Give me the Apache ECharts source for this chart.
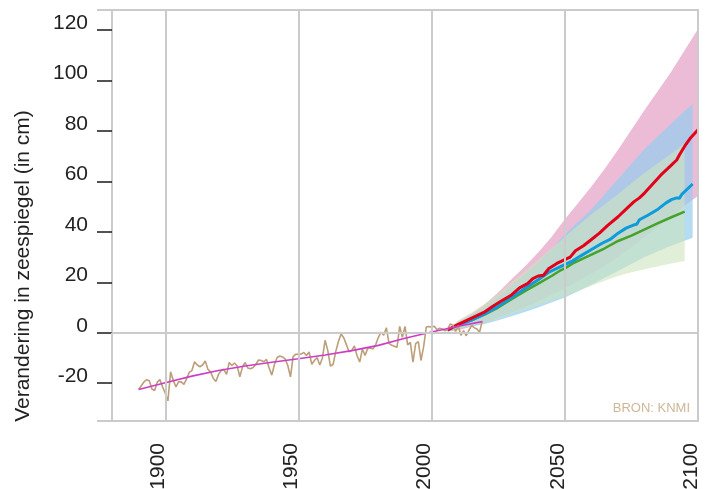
<!DOCTYPE html>
<html>
<head>
<meta charset="utf-8">
<script src="https://cdn.jsdelivr.net/npm/echarts@6/dist/echarts.min.js"></script>
<style>
html, body { margin: 0; padding: 0; background: #fff; }
#chart { width: 710px; height: 489px; }
</style>
</head>
<body>
<div id="chart"></div>
<script>
// ---------------- data ----------------
var xMin = 1880, xMax = 2100;
var yMin = -35, yMax = 128;
var xTicks = [1900, 1950, 2000, 2050, 2100];
var yTicks = [-20, 0, 20, 40, 60, 80, 100, 120];

// gemeten zeespiegel, jaarlijks vanaf 1890
var obsStart = 1890;
var obsValues = [
  -22.5, -21, -19.5, -18.6, -19, -22.3, -22.9, -19.6, -18.6, -21.5,
  -24, -27, -15.5, -18.8, -21.5, -19.5, -19.5, -20.5, -18.3, -15.7,
  -15, -11.5, -12.8, -13.5, -12.8, -11.2, -14.5, -15.5, -18, -19.3,
  -16.5, -15, -14.5, -16.5, -11.8, -13, -12, -13.2, -17.5, -13.5,
  -11.8, -14, -14.3, -13.8, -12.6, -10.8, -11, -11.5, -10.6, -14,
  -16.8, -12.5, -9.8, -9.2, -9.6, -10.4, -13, -17.5, -9.5, -8.5,
  -8.4, -8.5, -7.8, -9, -7.6, -12.5, -11, -9.8, -12.8, -10,
  -3, -7, -13.2, -12.6, -7.5, -3.5, -0.5, -2, -4.7, -7.6,
  -7, -5.2, -9.1, -11.6, -6.5, -9, -6.2, -6, -6.4, -4.8,
  -1.8, 0.2, -1, 2, -4.2, -5, -5.4, -5.8, 2.5, -1.8,
  2.5, -4.8, -3.8, -11.7, -4.3, -3.5, -11, -5.5, 2.3, 2.5,
  2.2, 2.6, 1.2, 1.8, 1.5, 0.8, 1.3, 3.5, 3, 0.5,
  2.8, -1, 0.8, -1.2, 1, 2.8, 2, 1.5, 0.2, 4.7
];

// trendlijn
var trendYears = [1890, 1900, 1910, 1920, 1930, 1940, 1950, 1960, 1970, 1980, 1990, 2000, 2010, 2019];
var trendValues = [-22.5, -19.8, -17.2, -15, -13.2, -11.7, -10.3, -8.8, -7.1, -5, -2.2, 0.3, 2.6, 4.4];

// projecties (middenwaarden)
var redYears = [2006, 2010, 2014, 2017, 2020, 2023, 2026, 2030, 2033, 2036, 2038, 2040, 2042, 2044, 2047, 2050, 2052, 2054, 2057, 2060, 2063, 2066, 2070, 2073, 2076, 2078, 2080, 2083, 2086, 2088, 2090, 2092, 2093, 2095, 2097, 2100];
var redValues = [1.1, 3.3, 5.3, 6.8, 8.3, 10.5, 12.5, 15, 17.8, 19.5, 21.5, 22.5, 22.8, 25.5, 27.5, 29, 30, 32.5, 34.5, 37, 39.5, 42.5, 46, 49, 52, 53.5, 55.5, 59, 62.5, 64.5, 66.5, 68.5, 70.5, 74, 77, 80.5];

var blueYears = [2006, 2010, 2015, 2020, 2025, 2030, 2035, 2040, 2044, 2047, 2050, 2053, 2056, 2060, 2064, 2067, 2070, 2073, 2076, 2077, 2078, 2081, 2085, 2088, 2090, 2092, 2093, 2094, 2096, 2098];
var blueValues = [1.1, 3, 5, 7.5, 10.5, 14, 17.5, 21, 24, 25.5, 27, 28.5, 30.5, 33, 35.5, 37, 39.5, 41.5, 42.8, 43, 44.8, 46.5, 49, 51.5, 52.8, 53.5, 53.3, 55, 57, 59];

var greenYears = [2006, 2010, 2015, 2020, 2025, 2030, 2035, 2040, 2045, 2048, 2050, 2053, 2055, 2058, 2060, 2065, 2070, 2075, 2080, 2085, 2090, 2095];
var greenValues = [1.1, 3, 5, 7.3, 10, 13.3, 16.5, 19.5, 22.5, 24.5, 25.5, 27.5, 28.5, 30, 31, 33.5, 36.4, 38.5, 41, 43.5, 45.8, 48];

// onzekerheidsbanden
var pinkYears = [2006, 2010, 2015, 2020, 2025, 2030, 2035, 2040, 2045, 2050, 2055, 2060, 2065, 2070, 2075, 2080, 2085, 2090, 2095, 2100];
var pinkLow = [0.5, 1, 2.5, 4, 6, 8, 10, 12.5, 15, 17.5, 20.5, 23.5, 26.5, 30, 34, 38, 42, 46, 50.5, 54.2];
var pinkHigh = [1.5, 4.5, 7.5, 11.3, 16, 21.2, 26.3, 31.8, 38, 45, 51.5, 58, 65, 72.6, 80.5, 88.4, 96, 103.6, 112, 120.5];

var bandBlueYears = [2006, 2010, 2015, 2020, 2025, 2030, 2035, 2040, 2045, 2050, 2055, 2060, 2065, 2070, 2075, 2080, 2085, 2090, 2095, 2098];
var bandBlueLow = [0.5, 1.5, 2.5, 3.5, 5, 6.5, 8.2, 10, 12, 14, 16.5, 19, 21.8, 24.5, 27.3, 30, 32.3, 34.5, 36.5, 37.7];
var bandBlueHigh = [1.5, 4.5, 7, 10, 14, 18.6, 23, 27.8, 33, 39, 44, 49, 55, 61, 67, 73, 78, 83, 88, 90.7];

var bandGreenYears = [2006, 2010, 2015, 2020, 2025, 2030, 2035, 2040, 2045, 2050, 2055, 2060, 2065, 2070, 2075, 2080, 2085, 2090, 2095];
var bandGreenLow = [0.5, 1.5, 2.8, 4, 5.7, 7.5, 9.2, 11, 12.8, 14.6, 16.6, 18.6, 20.6, 22.5, 24, 25.2, 26.4, 27.5, 28.5];
var bandGreenHigh = [1.5, 5, 8, 11.5, 15.5, 20, 24.5, 29, 33.5, 38, 42.5, 47, 51, 55, 59.3, 63.5, 67.3, 71, 75.3];

// ---------------- helpers ----------------
function pairs(xs, ys) {
  var out = [];
  for (var i = 0; i < xs.length; i++) out.push([xs[i], ys[i]]);
  return out;
}
// band tussen onder- en bovengrens, als polygoon via de assen
function band(name, xs, lo, hi, color) {
  return {
    name: name, type: 'custom', silent: true,
    data: [[xs[0], lo[0]]],
    renderItem: function (params, api) {
      var pts = [];
      for (var i = 0; i < xs.length; i++) pts.push(api.coord([xs[i], hi[i]]));
      for (var j = xs.length - 1; j >= 0; j--) pts.push(api.coord([xs[j], lo[j]]));
      return { type: 'polygon', shape: { points: pts }, style: { fill: color } };
    }
  };
}
function line(name, data, color, width) {
  return {
    name: name, type: 'line', data: data, symbol: 'none',
    lineStyle: { color: color, width: width }, silent: true
  };
}

var obsData = [];
for (var i = 0; i < obsValues.length; i++) obsData.push([obsStart + i, obsValues[i]]);

var font = '"Liberation Sans", Arial, Helvetica, sans-serif';
var gridColor = '#cbcbcb';

var series = [];
// gridlijnen (0-lijn en verticale jaren)
series.push({
  type: 'line', data: [], silent: true,
  markLine: {
    silent: true, symbol: 'none', label: { show: false }, animation: false,
    lineStyle: { color: gridColor, width: 2, type: 'solid' },
    data: xTicks.map(function (v) { return { xAxis: v }; }).concat([{ yAxis: 0 }])
  }
});
series.push(band('hoog', pinkYears, pinkLow, pinkHigh, '#ecbcd6'));
series.push(band('midden', bandBlueYears, bandBlueLow, bandBlueHigh, 'rgba(150,205,238,0.7)'));
series.push(band('laag', bandGreenYears, bandGreenLow, bandGreenHigh, 'rgba(205,228,190,0.6)'));

series.push(line('laag scenario', pairs(greenYears, greenValues), '#45a22c', 2.5));
series.push(line('midden scenario', pairs(blueYears, blueValues), '#0d9bdb', 3));
series.push(line('hoog scenario', pairs(redYears, redValues), '#e3001b', 3));
series.push(line('gemeten', obsData, '#bc9f78', 1.6));
series.push(line('trend', pairs(trendYears, trendValues), '#d03cc6', 1.6));

var option = {
  animation: false,
  backgroundColor: '#fff',
  grid: {
    left: 112, right: 12, top: 10, bottom: 68,
    show: true, borderColor: gridColor, borderWidth: 2,
    outerBoundsMode: 'none'
  },
  xAxis: [{
    type: 'value', min: xMin, max: xMax,
    axisLine: { show: false },
    splitLine: { show: false },
    axisTick: {
      show: true, customValues: xTicks, length: 14, inside: false,
      lineStyle: { color: '#1a1a1a', width: 1.5 }
    },
    axisLabel: {
      customValues: xTicks, rotate: 90, margin: 22,
      fontSize: 21, color: '#222', fontFamily: font,
      verticalAlign: 'bottom', lineHeight: 14,
      formatter: function (v) { return String(v); }
    }
  }, {
    type: 'value', min: xMin, max: xMax, position: 'bottom',
    axisLine: { show: false }, splitLine: { show: false },
    axisLabel: { show: false },
    axisTick: { show: true, customValues: [xMin], length: 14, lineStyle: { color: gridColor, width: 2 } }
  }],
  yAxis: [{
    type: 'value', min: yMin, max: yMax,
    axisLine: { show: false },
    splitLine: { show: false },
    axisTick: {
      show: true, customValues: yTicks, length: 15,
      lineStyle: { color: '#1a1a1a', width: 1.5 }
    },
    axisLabel: {
      customValues: yTicks, margin: 24,
      fontSize: 21, color: '#222', fontFamily: font,
      verticalAlign: 'bottom', lineHeight: 14,
      formatter: function (v) { return String(v); }
    }
  }, {
    type: 'value', min: yMin, max: yMax, position: 'left',
    axisLine: { show: false }, splitLine: { show: false },
    axisLabel: { show: false },
    axisTick: { show: true, customValues: [yMin, yMax], length: 15, lineStyle: { color: gridColor, width: 2 } }
  }],
  graphic: [{
    type: 'text', x: 23, y: 266, rotation: Math.PI / 2,
    style: {
      text: 'Verandering in zeespiegel (in cm)',
      font: '21px ' + font, fill: '#222',
      textAlign: 'center', textVerticalAlign: 'middle',
      align: 'center', verticalAlign: 'middle'
    }
  }, {
    type: 'text', x: 690, y: 415,
    style: {
      text: 'BRON: KNMI',
      font: '13px ' + font, fill: '#cdb799',
      textAlign: 'right', textVerticalAlign: 'bottom',
      align: 'right', verticalAlign: 'bottom'
    }
  }],
  series: series
};

echarts.init(document.getElementById('chart'), null, { renderer: 'canvas' }).setOption(option);
</script>
</body>
</html>
